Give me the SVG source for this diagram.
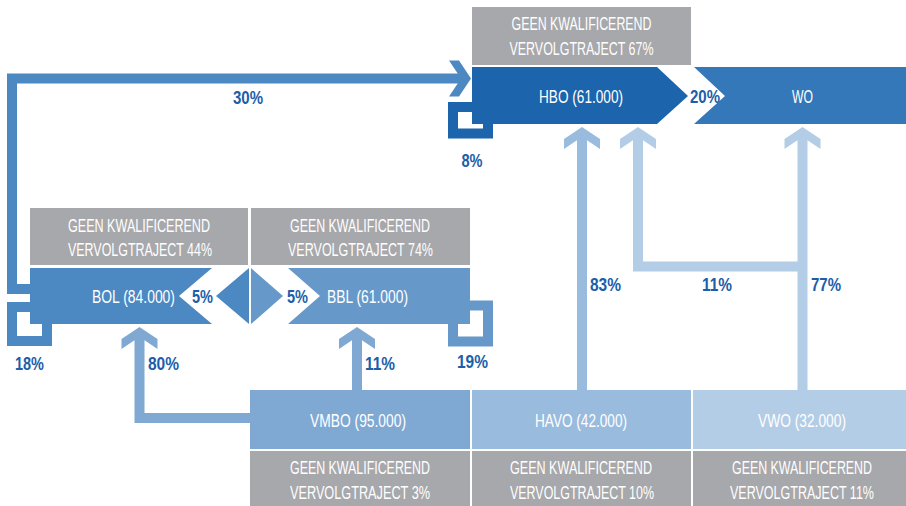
<svg xmlns="http://www.w3.org/2000/svg" width="906" height="506" viewBox="0 0 906 506">
<style>
text{font-family:"Liberation Sans Narrow","Liberation Sans",Arial,sans-serif;font-size:18px;text-anchor:middle}
.w{fill:#ffffff}
.p{fill:#1c5ea9;font-weight:bold}
.gray{fill:#a7a8ab}
.ln{fill:none;stroke-width:10;stroke-linejoin:miter;stroke-linecap:butt}
</style>
<defs>
<marker id="ah-bol" markerUnits="userSpaceOnUse" orient="auto" viewBox="-20 -20 30 40" markerWidth="30" markerHeight="40" refX="0" refY="0"><polygon points="8,0 -4,-18 -14,-18 -5.3,-5 -5.3,5 -14,18 -4,18" fill="#4c88c1"/></marker>
<marker id="ah-vmbo" markerUnits="userSpaceOnUse" orient="auto" viewBox="-20 -20 30 40" markerWidth="30" markerHeight="40" refX="0" refY="0"><polygon points="8,0 -4,-18 -14,-18 -5.3,-5 -5.3,5 -14,18 -4,18" fill="#7fa9d3"/></marker>
<marker id="ah-havo" markerUnits="userSpaceOnUse" orient="auto" viewBox="-20 -20 30 40" markerWidth="30" markerHeight="40" refX="0" refY="0"><polygon points="8,0 -4,-18 -14,-18 -5.3,-5 -5.3,5 -14,18 -4,18" fill="#99bbde"/></marker>
<marker id="ah-vwo" markerUnits="userSpaceOnUse" orient="auto" viewBox="-20 -20 30 40" markerWidth="30" markerHeight="40" refX="0" refY="0"><polygon points="8,0 -4,-18 -14,-18 -5.3,-5 -5.3,5 -14,18 -4,18" fill="#b4cde6"/></marker>
</defs>
<rect width="906" height="506" fill="#ffffff"/>

<g id="connectors">
<path class="ln" stroke="#4c88c1" d="M30,289 H12 V78.5 H463" marker-end="url(#ah-bol)"/>
<path class="ln" stroke="#1c65ad" d="M472,107 H453 V133.5 H488 V124"/>
<path class="ln" stroke="#4c88c1" d="M30,307 H12 V341 H47 V324"/>
<path class="ln" stroke="#6699ca" d="M470,305.5 H488 V341.5 H453 V324"/>
<path class="ln" stroke="#7fa9d3" d="M250,418 H139.5 V335" marker-end="url(#ah-vmbo)"/>
<path class="ln" stroke="#7fa9d3" d="M357,390 V335" marker-end="url(#ah-vmbo)"/>
<path class="ln" stroke="#99bbde" d="M582,390 V135" marker-end="url(#ah-havo)"/>
<path class="ln" stroke="#b4cde6" d="M802.5,266.5 H638 V135" marker-end="url(#ah-vwo)"/>
<path class="ln" stroke="#b4cde6" d="M802.5,390 V135" marker-end="url(#ah-vwo)"/>
<polygon points="216,296 249,268 249,324" fill="#4c88c1"/>
<polygon points="251,268 283,296 251,324" fill="#6699ca"/>
<text class="p" x="248" y="103.5" textLength="30" lengthAdjust="spacingAndGlyphs">30%</text>
<text class="p" x="472" y="166.5" textLength="21" lengthAdjust="spacingAndGlyphs">8%</text>
<text class="p" x="705" y="102.5" textLength="30" lengthAdjust="spacingAndGlyphs">20%</text>
<text class="p" x="202.5" y="302.5" textLength="21" lengthAdjust="spacingAndGlyphs">5%</text>
<text class="p" x="297.5" y="302.5" textLength="21" lengthAdjust="spacingAndGlyphs">5%</text>
<text class="p" x="29.5" y="369.5" textLength="29" lengthAdjust="spacingAndGlyphs">18%</text>
<text class="p" x="163.5" y="369.5" textLength="31" lengthAdjust="spacingAndGlyphs">80%</text>
<text class="p" x="380" y="369.5" textLength="30" lengthAdjust="spacingAndGlyphs">11%</text>
<text class="p" x="472.5" y="367.5" textLength="31" lengthAdjust="spacingAndGlyphs">19%</text>
<text class="p" x="605.5" y="290.5" textLength="31" lengthAdjust="spacingAndGlyphs">83%</text>
<text class="p" x="717" y="290.5" textLength="30" lengthAdjust="spacingAndGlyphs">11%</text>
<text class="p" x="826" y="290.5" textLength="30" lengthAdjust="spacingAndGlyphs">77%</text>
</g>

<g id="hbo">
<rect class="gray" x="472" y="7" width="219" height="58"/>
<text class="w" x="581.5" y="30" textLength="140" lengthAdjust="spacingAndGlyphs">GEEN KWALIFICEREND</text>
<text class="w" x="581.5" y="55" textLength="144" lengthAdjust="spacingAndGlyphs">VERVOLGTRAJECT 67%</text>
<polygon points="472,67 657,67 688,96 657,124 472,124" fill="#1c65ad"/>
<text class="w" x="581" y="102.5" textLength="84" lengthAdjust="spacingAndGlyphs">HBO (61.000)</text>
</g>

<g id="wo">
<polygon points="694,67 906,67 906,124 694,124 725,96" fill="#3478b9"/>
<text class="w" x="802.5" y="102.5" textLength="21" lengthAdjust="spacingAndGlyphs">WO</text>
</g>

<g id="bol">
<rect class="gray" x="30" y="208" width="218" height="57"/>
<text class="w" x="139" y="231.5" textLength="142" lengthAdjust="spacingAndGlyphs">GEEN KWALIFICEREND</text>
<text class="w" x="140" y="256" textLength="144" lengthAdjust="spacingAndGlyphs">VERVOLGTRAJECT 44%</text>
<polygon points="30,268 212,268 179,296 212,324 30,324" fill="#4c88c1"/>
<text class="w" x="133.5" y="302.5" textLength="83" lengthAdjust="spacingAndGlyphs">BOL (84.000)</text>
</g>

<g id="bbl">
<rect class="gray" x="251" y="208" width="219" height="57"/>
<text class="w" x="360" y="231.5" textLength="140" lengthAdjust="spacingAndGlyphs">GEEN KWALIFICEREND</text>
<text class="w" x="360.5" y="256" textLength="145" lengthAdjust="spacingAndGlyphs">VERVOLGTRAJECT 74%</text>
<polygon points="288,268 470,268 470,324 288,324 320,296" fill="#6699ca"/>
<text class="w" x="367.5" y="302.5" textLength="81" lengthAdjust="spacingAndGlyphs">BBL (61.000)</text>
</g>

<g id="vmbo">
<rect x="250" y="390" width="220" height="59" fill="#7fa9d3"/>
<text class="w" x="358" y="426.5" textLength="96" lengthAdjust="spacingAndGlyphs">VMBO (95.000)</text>
<rect class="gray" x="250" y="451" width="220" height="55"/>
<text class="w" x="360" y="473.5" textLength="140" lengthAdjust="spacingAndGlyphs">GEEN KWALIFICEREND</text>
<text class="w" x="360" y="499" textLength="140" lengthAdjust="spacingAndGlyphs">VERVOLGTRAJECT 3%</text>
</g>

<g id="havo">
<rect x="472" y="390" width="219" height="59" fill="#99bbde"/>
<text class="w" x="581" y="426.5" textLength="92" lengthAdjust="spacingAndGlyphs">HAVO (42.000)</text>
<rect class="gray" x="472" y="451" width="219" height="55"/>
<text class="w" x="581" y="473.5" textLength="142" lengthAdjust="spacingAndGlyphs">GEEN KWALIFICEREND</text>
<text class="w" x="582" y="499" textLength="144" lengthAdjust="spacingAndGlyphs">VERVOLGTRAJECT 10%</text>
</g>

<g id="vwo">
<rect x="693" y="390" width="213" height="59" fill="#b4cde6"/>
<text class="w" x="802" y="426.5" textLength="88" lengthAdjust="spacingAndGlyphs">VWO (32.000)</text>
<rect class="gray" x="693" y="451" width="213" height="55"/>
<text class="w" x="802" y="473.5" textLength="140" lengthAdjust="spacingAndGlyphs">GEEN KWALIFICEREND</text>
<text class="w" x="802" y="499" textLength="144" lengthAdjust="spacingAndGlyphs">VERVOLGTRAJECT 11%</text>
</g>
</svg>
